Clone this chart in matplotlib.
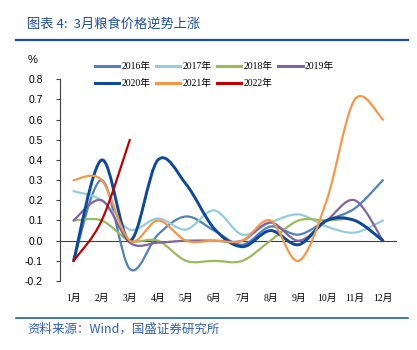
import numpy as np
import matplotlib
matplotlib.use("Agg")
import matplotlib.pyplot as plt
from matplotlib.path import Path
from matplotlib.patches import PathPatch
from matplotlib.lines import Line2D

plt.rcParams['font.family'] = ['Liberation Sans', 'Noto Sans CJK SC']

months = ['1月', '2月', '3月', '4月', '5月', '6月',
          '7月', '8月', '9月', '10月', '11月', '12月']
years = ['2016年', '2017年', '2018年', '2019年', '2020年', '2021年', '2022年']

y2016 = [-0.10, 0.30, -0.14, 0.03, 0.12, 0.05, -0.02, 0.07, 0.03, 0.10, 0.16, 0.30]
y2017 = [0.245, 0.20, 0.055, 0.11, 0.055, 0.15, 0.03, 0.09, 0.13, 0.07, 0.04, 0.10]
y2018 = [0.10, 0.10, 0.00, 0.00, -0.10, -0.10, -0.10, 0.00, 0.10, 0.10, 0.10, 0.00]
y2019 = [0.10, 0.20, -0.01, -0.01, 0.00, 0.00, 0.00, 0.09, 0.00, 0.10, 0.20, 0.00]
y2020 = [-0.10, 0.40, 0.00, 0.40, 0.28, 0.06, -0.03, 0.05, -0.02, 0.10, 0.10, 0.00]
y2021 = [0.30, 0.30, 0.00, 0.10, 0.00, 0.00, 0.00, 0.10, -0.10, 0.20, 0.70, 0.60]
y2022 = [-0.10, 0.10, 0.50]

series = [y2016, y2017, y2018, y2019, y2020, y2021, y2022]
colors = ['#4F81BD', '#93CDDD', '#9BBB59', '#8064A2', '#0B489E', '#F79646', '#C00000']
widths = [1.6, 1.6, 1.6, 1.6, 2.1, 1.6, 1.6]


def smooth_path(vals):
    # Excel-like smoothed line: cubic bezier segments (Catmull-Rom control points)
    pts = np.column_stack([np.arange(len(vals)), vals]).astype(float)
    n = len(pts)
    verts = [pts[0]]
    codes = [Path.MOVETO]
    for i in range(n - 1):
        p_prev = pts[max(i - 1, 0)]
        p0, p1 = pts[i], pts[i + 1]
        p_next = pts[min(i + 2, n - 1)]
        c1 = p0 + (p1 - p_prev) / 6
        c2 = p1 - (p_next - p0) / 6
        verts += [c1, c2, p1]
        codes += [Path.CURVE4] * 3
    return Path(verts, codes)


fig = plt.figure(figsize=(4.17, 3.5), dpi=100)
ax = fig.add_axes([59.5 / 417, 1 - 281 / 350, (397 - 59.5) / 417, (281 - 79.3) / 350])

ax.axhline(0, color='#404040', lw=0.8, zorder=1)
for vals, c, lw in zip(series, colors, widths):
    ax.add_patch(PathPatch(smooth_path(vals), facecolor='none', edgecolor=c,
                           lw=lw, capstyle='round', joinstyle='round', zorder=2))

ax.set_xlim(-0.5, 11.5)
ax.set_ylim(-0.2, 0.8)
ax.set_yticks(np.arange(-0.2, 0.81, 0.1))
ax.set_yticklabels([f"{v:.1f}" for v in np.arange(-0.2, 0.81, 0.1)], fontsize=7.5)
ax.set_xticks(range(12))
ax.set_xticklabels(months, fontsize=7,
                   fontfamily=['Liberation Serif', 'Noto Sans CJK SC'])
ax.tick_params(axis='x', length=0, pad=9)
ax.tick_params(axis='y', direction='out', length=3, width=0.8, color='#404040', pad=9)
for s in ['top', 'right', 'bottom']:
    ax.spines[s].set_visible(False)
ax.spines['left'].set_color('#404040')
ax.spines['left'].set_linewidth(0.8)

# legend, row-major order (2 rows x 4 cols)
order = [0, 4, 1, 5, 2, 6, 3]
handles = [Line2D([], [], color=colors[i], lw=2.2) for i in order]
labels = [years[i] for i in order]
fig.legend(handles, labels, loc='upper left', bbox_to_anchor=(90 / 417, 1 - 57 / 350),
           ncol=4, frameon=False, borderpad=0, handlelength=2.5, handletextpad=0.25,
           columnspacing=0.55, labelspacing=0.8,
           prop={'family': ['Liberation Serif', 'Noto Sans CJK SC'], 'size': 7})

fig.text(33 / 417, 1 - 60 / 350, '%', fontsize=8, ha='center', va='center')

# title and footer
fig.text(27 / 417, 1 - 24 / 350, '图表 4:  3月粮食价格逆势上涨', fontsize=9.5,
         color='#1F4E9B', ha='left', va='center', family=['Noto Sans CJK SC'])
fig.add_artist(Line2D([16 / 417, 408 / 417], [1 - 40 / 350] * 2, color='#1F4E9B', lw=1.6))
fig.add_artist(Line2D([16 / 417, 408 / 417], [1 - 318 / 350] * 2, color='#1F5FB4', lw=1.2))
fig.text(27 / 417, 1 - 329 / 350, '资料来源：Wind，国盛证券研究所', fontsize=9,
         color='#2F5DB5', ha='left', va='center', family=['Noto Sans CJK SC'])

fig.savefig('out.png', dpi=100)
